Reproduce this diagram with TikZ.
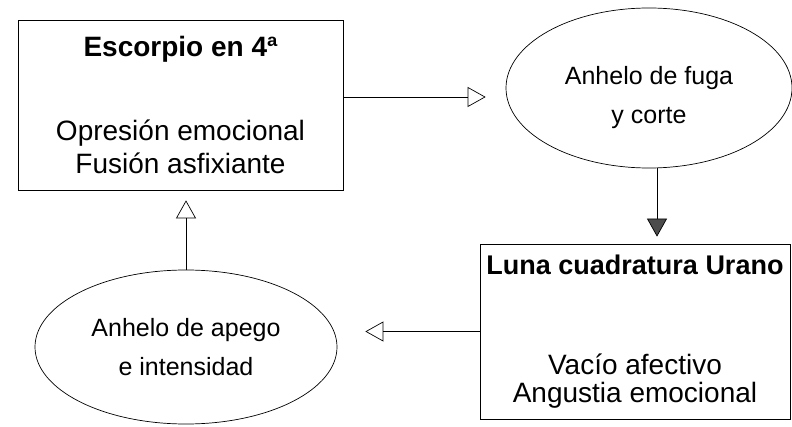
\documentclass[tikz,border=0pt]{standalone}
\usepackage{fontspec}
\setmainfont{Liberation Sans}
\usetikzlibrary{arrows.meta,positioning,shapes.geometric}

\tikzset{
  stagebox/.style={draw, line width=0.7pt, align=center, inner sep=0pt},
  wishoval/.style={draw, ellipse, line width=0.7pt, align=center, inner sep=0pt,
    font=\fontsize{25}{39}\selectfont},
  flow/.style={line width=0.7pt, -{Triangle[open, length=18pt, width=20pt]}},
  flowdark/.style={line width=0.7pt, -{Triangle[fill=black!70, length=18pt, width=20pt]}}
}

\begin{document}
\begin{tikzpicture}[x=1pt, y=1pt]
\useasboundingbox (0,0) rectangle (792,426);

% ciclo emocional
\node[stagebox, minimum width=325pt, minimum height=170pt,
  font=\fontsize{28}{33}\selectfont] (escorpio) at (180.5,321)
  {\textbf{Escorpio en 4ª}\\[51pt]Opresión emocional\\Fusión asfixiante};
\node[wishoval, minimum width=286pt, minimum height=160pt] (fuga) at (649,338)
  {\rule{0pt}{38pt}Anhelo de fuga\\y corte};
\node[stagebox, minimum width=310pt, minimum height=175pt,
  font=\fontsize{28}{28}\selectfont] (luna) at (635,94.5)
  {\textbf{\fontsize{27}{28}\selectfont Luna cuadratura Urano}\\[72pt]Vacío afectivo\\Angustia emocional};
\node[wishoval, minimum width=302pt, minimum height=154pt] (apego) at (186,79)
  {Anhelo de apego\\e intensidad};

\draw[flow, shorten >=20pt] ([yshift=8pt]escorpio.east) -- ([yshift=8pt]escorpio.east -| fuga.west);
\draw[flowdark, shorten >=7pt] ([xshift=8pt]fuga.south) -- ([xshift=8pt]fuga.south |- luna.north);
\draw[flow, shorten >=28pt] (luna.west) -- (luna.west -| apego.east);
\draw[flow, shorten >=10pt] (apego.north) -- (apego.north |- escorpio.south);
\end{tikzpicture}
\end{document}
